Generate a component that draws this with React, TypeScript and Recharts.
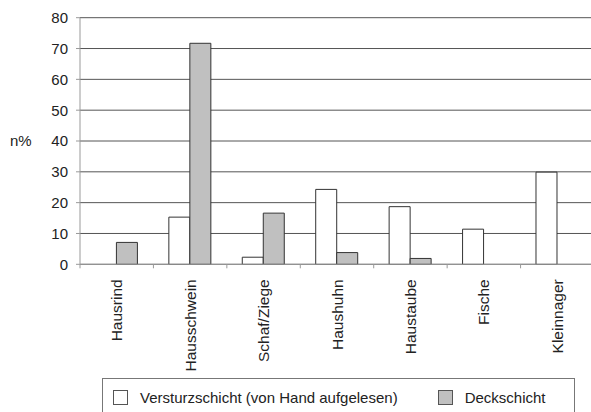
import React from 'react';
import { BarChart, Bar, XAxis, YAxis, CartesianGrid } from 'recharts';

const categories = ['Hausrind', 'Hausschwein', 'Schaf/Ziege', 'Haushuhn', 'Haustaube', 'Fische', 'Kleinnager'];
const versturz = [0, 15.3, 2.3, 24.3, 18.7, 11.4, 29.9];
const deck = [7.1, 71.7, 16.6, 3.8, 1.9, 0, 0];
const yTicks = [0, 10, 20, 30, 40, 50, 60, 70, 80];
const seriesNames = ['Versturzschicht (von Hand aufgelesen)', 'Deckschicht'];

const WHITE = '#ffffff';
const GREY = '#c0c0c0';
const EDGE = '#333333';
const FONT = '"Liberation Sans", Arial, sans-serif';

const data = categories.map((name, i) => ({ name, versturz: versturz[i], deck: deck[i] }));

const CategoryTick = (props: any) => {
  const { x, y, payload, index } = props;
  const off = payload && payload.offset ? payload.offset : 36.7;
  const last = index === categories.length - 1;
  return (
    <g>
      <line x1={x - off} x2={x - off} y1={y} y2={y + 4} stroke="#999" />
      {last && <line x1={x + off} x2={x + off} y1={y} y2={y + 4} stroke="#999" />}
      <text
        transform={`translate(${x + 5.5},${y + 15}) rotate(-90)`}
        textAnchor="end"
        fontSize={15.5}
        fill="#222"
        fontFamily={FONT}
      >
        {payload.value}
      </text>
    </g>
  );
};

const Swatch = ({ color }: { color: string }) => (
  <span style={{
    display: 'inline-block', width: 15, height: 15, background: color,
    border: '1px solid #555', boxSizing: 'border-box', marginRight: 12, verticalAlign: -2
  }} />
);

export default function App() {
  return (
    <div style={{ position: 'absolute', left: 0, top: 0, width: 591, height: 412, overflow: 'hidden', background: '#fff', fontFamily: FONT }}>
      <BarChart
        width={594}
        height={412}
        data={data}
        margin={{ top: 17.7, right: 0, left: 0, bottom: 0 }}
        barCategoryGap="21%"
        barGap={0}
      >
        <CartesianGrid vertical={false} stroke="#555" />
        <XAxis
          dataKey="name"
          height={147.7}
          interval={0}
          tickSize={0}
          tickMargin={0}
          tickLine={false}
          axisLine={{ stroke: '#999' }}
          tick={<CategoryTick />}
        />
        <YAxis
          width={80}
          domain={[0, 80]}
          ticks={yTicks}
          interval={0}
          tickSize={4}
          tickMargin={8}
          axisLine={{ stroke: '#999' }}
          tickLine={{ stroke: '#999' }}
          tick={{ fontSize: 15, fill: '#222', fontFamily: FONT }}
          label={{ value: 'n%', position: 'insideLeft', offset: 10, fontSize: 15, fill: '#222', fontFamily: FONT }}
        />
        <Bar dataKey="versturz" name={seriesNames[0]} fill={WHITE} stroke={EDGE} strokeWidth={1} isAnimationActive={false} />
        <Bar dataKey="deck" name={seriesNames[1]} fill={GREY} stroke={EDGE} strokeWidth={1} isAnimationActive={false} />
      </BarChart>
      <div style={{
        position: 'absolute', left: 102, top: 378, width: 473, height: 40,
        border: '1px solid #777', boxSizing: 'border-box', fontSize: 15, color: '#222',
        display: 'flex', alignItems: 'flex-start', paddingTop: 10, paddingLeft: 10
      }}>
        <span style={{ whiteSpace: 'nowrap' }}><Swatch color={WHITE} />{seriesNames[0]}</span>
        <span style={{ whiteSpace: 'nowrap', marginLeft: 40 }}><Swatch color={GREY} />{seriesNames[1]}</span>
      </div>
    </div>
  );
}
